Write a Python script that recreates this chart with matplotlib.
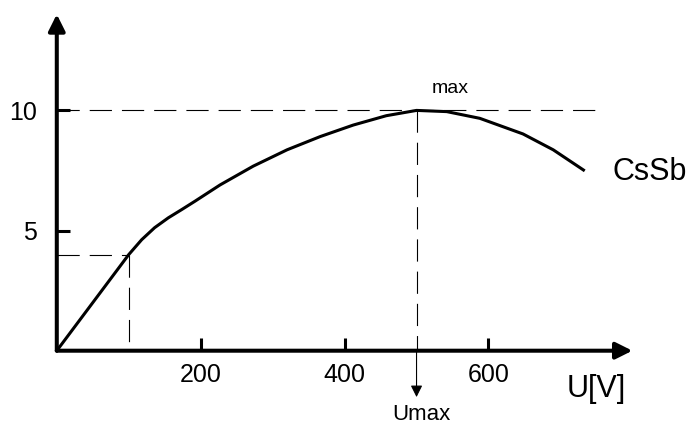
import matplotlib
matplotlib.use("Agg")
import matplotlib.pyplot as plt

plt.rcParams['font.family'] = ['Liberation Sans', 'DejaVu Sans']

# curve
u = [0, 100, 118, 136, 155, 174, 192, 227, 273, 320, 366, 412, 458, 500,
     542, 588, 648, 690, 732]
s = [0, 4.0, 4.62, 5.12, 5.53, 5.88, 6.22, 6.90, 7.68, 8.36, 8.91, 9.39, 9.78, 10.0,
     9.95, 9.67, 9.02, 8.36, 7.52]

x_ticks = [200, 400, 600]
y_ticks = [5, 10]
u_max, s_max = 500, 10
u_knee, s_knee = 100, 4

fig = plt.figure(figsize=(6.9, 4.28), dpi=100)
ax = fig.add_axes([0.0823, 0.1806, 0.8342, 0.7860])
ax.set_xlim(0, 800)
ax.set_ylim(0, 14)
for sp in ax.spines.values():
    sp.set_visible(False)

ax.set_xticks(x_ticks)
ax.set_yticks(y_ticks)
ax.tick_params(direction='in', length=9.4, width=2.2, labelsize=18)
ax.tick_params(axis='x', pad=9)
ax.tick_params(axis='y', pad=14)

# axes with arrow heads
arr = dict(arrowstyle='-|>,head_length=1.0,head_width=0.5', lw=2.9, color='k',
           mutation_scale=10, shrinkA=0, shrinkB=0)
ax.annotate('', xy=(800, 0), xytext=(0, 0), arrowprops=arr, annotation_clip=False)
ax.annotate('', xy=(0, 14), xytext=(0, 0), arrowprops=arr, annotation_clip=False)

# curve
ax.plot(u, s, color='k', lw=2.2, clip_on=False, solid_joinstyle='round')

# dashed guides
dash = dict(color='k', lw=0.8, dashes=(20, 9), clip_on=False)
ax.plot([0, 750], [s_max, s_max], **dash)
ax.plot([u_max, u_max], [s_max, 0], **dash)
ax.plot([0, u_knee], [s_knee, s_knee], **dash)
ax.plot([u_knee, u_knee], [s_knee, 0], **dash)

# Umax arrow below axis
ax.annotate('', xy=(u_max, -1.93), xytext=(u_max, 0),
            arrowprops=dict(arrowstyle='-|>,head_length=0.7,head_width=0.35', lw=0.8,
                            color='k', mutation_scale=10, shrinkA=0, shrinkB=0),
            annotation_clip=False)

ax.text(521, 10.72, 'max', fontsize=14, ha='left', va='baseline')
ax.text(772, 7.10, 'CsSb', fontsize=22, ha='left', va='baseline')
ax.text(709, -1.93, 'U[V]', fontsize=22, ha='left', va='baseline')
ax.text(466, -2.9, 'Umax', fontsize=16, ha='left', va='baseline')

fig.savefig('out.png', dpi=100)
